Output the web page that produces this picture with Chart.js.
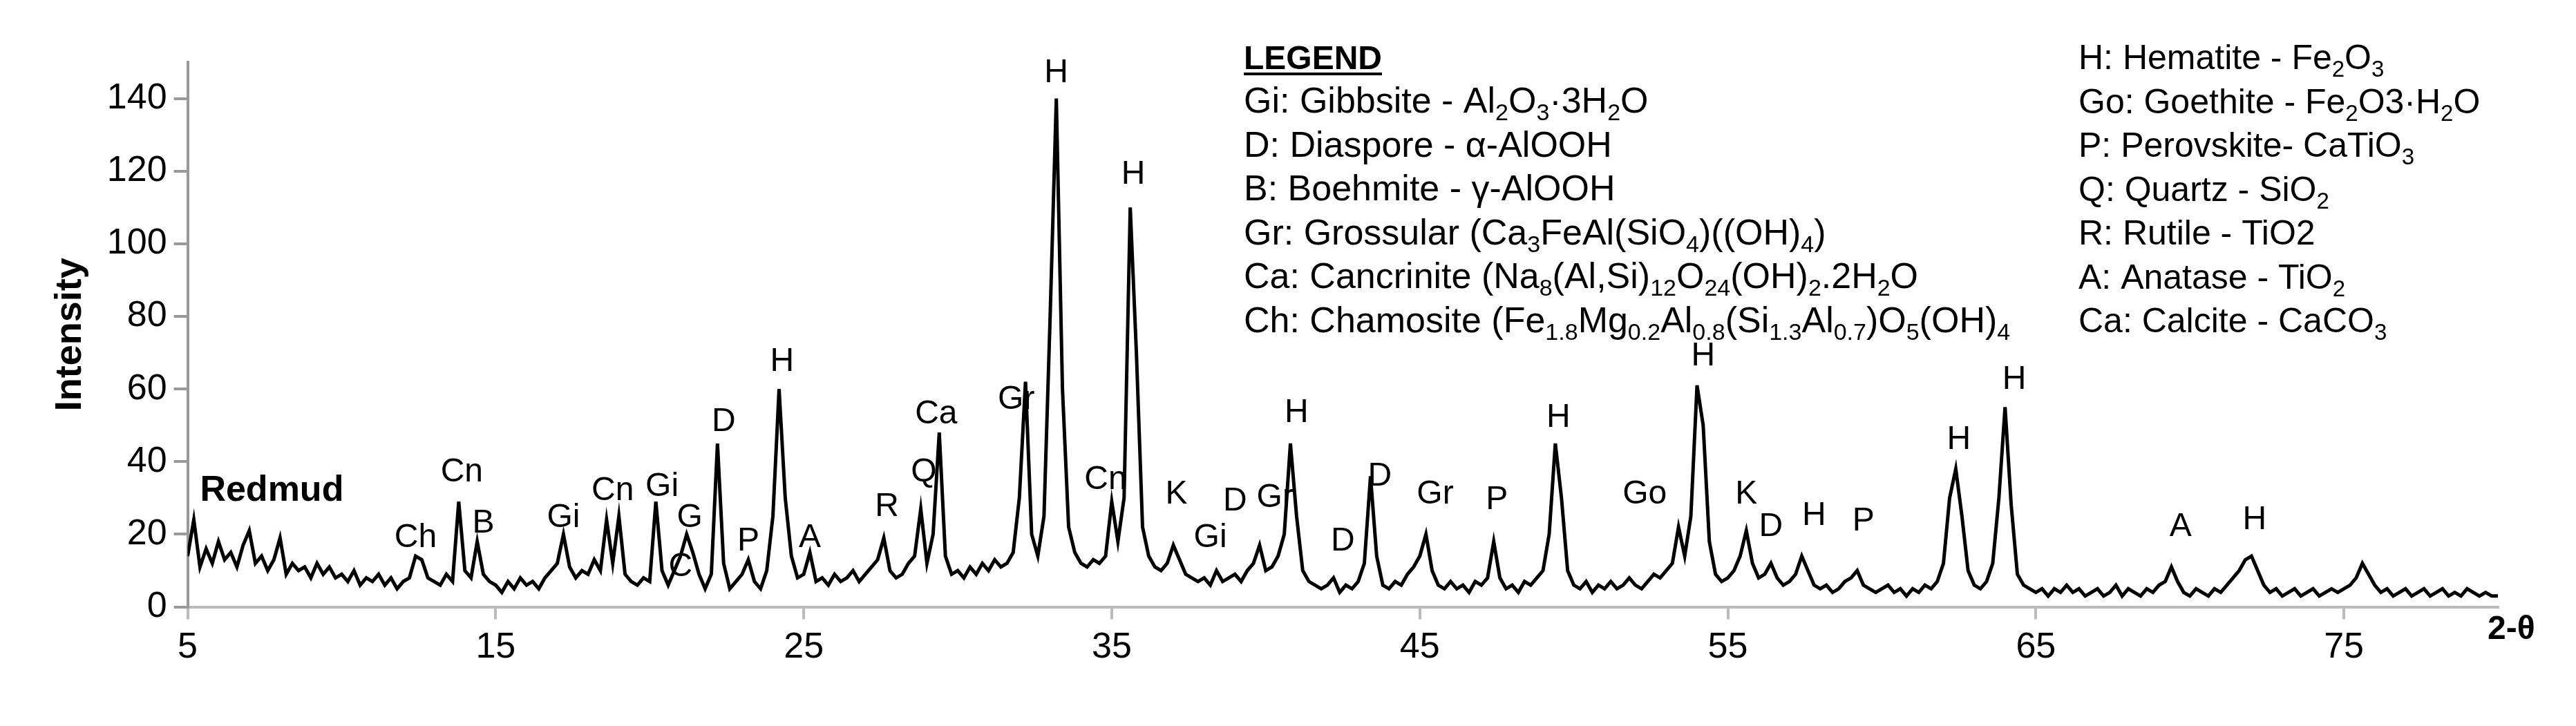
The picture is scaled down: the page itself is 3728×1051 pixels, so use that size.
<!DOCTYPE html>
<html>
<head>
<meta charset="UTF-8" />
<title>Redmud XRD</title>
<script src="https://cdn.jsdelivr.net/npm/chart.js"></script>
<style>
  body { margin: 0; background: white; }
  canvas { display: block; }
</style>
</head>
<body>
<canvas id="xrd" width="3728" height="1051"></canvas>
<script>
  // 2-theta grid: 5.0 .. 80.0 step 0.2
  const thetaStart = 5.0;
  const thetaStep = 0.2;
  const intensity = [
    14,24,11,16,12,18,13,15,11,17,21,12,14,10,13,19,9,12,10,11,8,12,9,11,8,
    9,7,10,6,8,7,9,6,8,5,7,8,14,13,8,7,6,9,7,29,10,8,18,9,7,
    6,4,7,5,8,6,7,5,8,10,12,20,11,8,10,9,13,10,24,12,25,9,7,6,8,
    7,29,10,6,10,14,20,15,9,5,9,45,12,5,7,9,13,7,5,10,25,60,30,14,8,
    9,15,7,8,6,9,7,8,10,7,9,11,13,19,10,8,9,12,14,27,12,20,48,14,9,
    10,8,11,9,12,10,13,11,12,15,30,62,20,14,25,80,140,60,22,15,12,11,13,12,14,
    29,18,30,110,70,22,14,11,10,12,17,13,9,8,7,8,6,10,7,8,9,7,10,12,17,
    10,11,14,20,45,25,10,7,6,5,6,8,4,6,5,7,12,36,14,6,5,7,6,9,11,
    14,20,10,6,5,7,5,6,4,7,6,8,18,8,5,6,4,7,6,8,10,20,45,30,10,
    6,5,7,4,6,5,7,5,6,8,6,5,7,9,8,10,12,22,14,25,61,50,18,9,7,
    8,10,14,21,12,8,9,12,8,6,7,9,14,10,6,5,6,4,5,7,8,10,6,5,4,
    5,6,4,5,3,5,4,6,5,7,12,30,38,25,10,6,5,7,12,30,55,28,9,6,5,
    4,5,3,5,4,6,4,5,3,4,5,3,4,6,3,5,4,3,5,4,6,7,11,7,4,
    3,5,4,3,5,4,6,8,10,13,14,10,6,4,5,3,4,5,3,4,5,3,4,5,4,
    5,6,8,12,9,6,4,5,3,4,5,3,4,5,3,4,5,3,4,3,5,4,3,4,3,
    3
  ];
  const xTicks = [5, 15, 25, 35, 45, 55, 65, 75];
  const yTicks = [0, 20, 40, 60, 80, 100, 120, 140];

  // peak labels: [text, 2-theta, intensity]
  const peakLabels = [
    ["Ch", 12.4, 19], ["Cn", 13.9, 37], ["B", 14.6, 23], ["Gi", 17.2, 24.5],
    ["Cn", 18.8, 32], ["Gi", 20.4, 33], ["G", 21.3, 24.5], ["C", 21.0, 11],
    ["D", 22.4, 51], ["P", 23.2, 18], ["H", 24.3, 67.5], ["A", 25.2, 19],
    ["R", 27.7, 27.6], ["Q", 28.9, 37], ["Ca", 29.3, 53], ["Gr", 31.9, 57],
    ["H", 33.2, 147], ["Cn", 34.8, 35], ["H", 35.7, 119], ["K", 37.1, 31],
    ["Gi", 38.2, 19], ["D", 39.0, 29], ["Gr", 40.3, 30], ["H", 41.0, 53.5],
    ["D", 42.5, 18], ["D", 43.7, 36], ["Gr", 45.5, 31], ["P", 47.5, 29.5],
    ["H", 49.5, 52], ["Go", 52.3, 31], ["H", 54.2, 69], ["K", 55.6, 31],
    ["D", 56.4, 22], ["H", 57.8, 25], ["P", 59.4, 23.5], ["H", 62.5, 46],
    ["H", 64.3, 62.5], ["A", 69.7, 22], ["H", 72.1, 24]
  ];

  // legend rows, _{..} marks subscript
  const legendLeft = [
    "Gi: Gibbsite - Al_{2}O_{3}·3H_{2}O",
    "D: Diaspore - α-AlOOH",
    "B: Boehmite - γ-AlOOH",
    "Gr: Grossular (Ca_{3}FeAl(SiO_{4})((OH)_{4})",
    "Ca: Cancrinite (Na_{8}(Al,Si)_{12}O_{24}(OH)_{2}.2H_{2}O",
    "Ch: Chamosite (Fe_{1.8}Mg_{0.2}Al_{0.8}(Si_{1.3}Al_{0.7})O_{5}(OH)_{4}"
  ];
  const legendRight = [
    "H: Hematite - Fe_{2}O_{3}",
    "Go: Goethite - Fe_{2}O3·H_{2}O",
    "P: Perovskite- CaTiO_{3}",
    "Q: Quartz - SiO_{2}",
    "R: Rutile - TiO2",
    "A: Anatase - TiO_{2}",
    "Ca: Calcite - CaCO_{3}"
  ];

  const points = intensity.map((v, i) => ({ x: +(thetaStart + i * thetaStep).toFixed(1), y: v }));
  const FONT = "'Liberation Sans', Arial, sans-serif";

  function drawRich(ctx, text, x, y, size) {
    const parts = text.split(/(_\{[^}]*\})/);
    let cx = x;
    parts.forEach(p => {
      if (!p) return;
      if (p.startsWith("_{")) {
        const s = p.slice(2, -1);
        ctx.font = `${Math.round(size * 0.65)}px ${FONT}`;
        ctx.fillText(s, cx, y + size * 0.22);
        cx += ctx.measureText(s).width;
      } else {
        ctx.font = `${size}px ${FONT}`;
        ctx.fillText(p, cx, y);
        cx += ctx.measureText(p).width;
      }
    });
  }

  const annotations = {
    id: "annotations",
    afterDatasetsDraw(chart) {
      const { ctx, scales: { x, y } } = chart;
      ctx.save();
      ctx.fillStyle = "black";
      ctx.textBaseline = "middle";
      ctx.textAlign = "center";
      ctx.font = `48px ${FONT}`;
      peakLabels.forEach(([t, px, py]) => ctx.fillText(t, x.getPixelForValue(px), y.getPixelForValue(py)));

      ctx.textAlign = "left";
      ctx.font = `bold 52px ${FONT}`;
      ctx.fillText("Redmud", x.getPixelForValue(5.4), y.getPixelForValue(32));

      // legend
      ctx.textBaseline = "alphabetic";
      ctx.font = `bold 48px ${FONT}`;
      ctx.fillText("LEGEND", 1800, 100);
      const w = ctx.measureText("LEGEND").width;
      ctx.fillRect(1800, 105, w, 4);
      legendLeft.forEach((t, i) => drawRich(ctx, t, 1800, 163 + i * 63.5, 52));
      legendRight.forEach((t, i) => drawRich(ctx, t, 3008, 100 + i * 63.5, 50));

      ctx.font = `bold 48px ${FONT}`;
      ctx.fillText("2-θ", 3600, 925);
      ctx.restore();
    }
  };

  new Chart(document.getElementById("xrd"), {
    type: "line",
    data: {
      datasets: [{
        data: points,
        borderColor: "black",
        borderWidth: 5,
        pointRadius: 0,
        tension: 0
      }]
    },
    options: {
      responsive: false,
      animation: false,
      devicePixelRatio: 1,
      layout: { padding: { top: 90, right: 113, bottom: 72, left: 60 } },
      plugins: { legend: { display: false }, tooltip: { enabled: false } },
      scales: {
        x: {
          type: "linear",
          min: 5,
          max: 80,
          afterBuildTicks: s => { s.ticks = xTicks.map(v => ({ value: v })); },
          grid: { display: true, drawOnChartArea: false, color: "#bbbbbb", lineWidth: 4, tickLength: 18 },
          border: { color: "#bbbbbb", width: 4 },
          ticks: { color: "black", font: { family: FONT, size: 52 }, padding: 10, maxRotation: 0 }
        },
        y: {
          min: 0,
          max: 150,
          afterBuildTicks: s => { s.ticks = yTicks.map(v => ({ value: v })); },
          grid: { display: true, drawOnChartArea: false, color: "#999999", lineWidth: 4, tickLength: 20 },
          border: { color: "#999999", width: 4 },
          ticks: { color: "black", font: { family: FONT, size: 52 }, padding: 10 },
          title: { display: true, text: "Intensity", color: "black", font: { family: FONT, size: 54, weight: "bold" }, padding: 10 }
        }
      }
    },
    plugins: [annotations]
  });
</script>
</body>
</html>
